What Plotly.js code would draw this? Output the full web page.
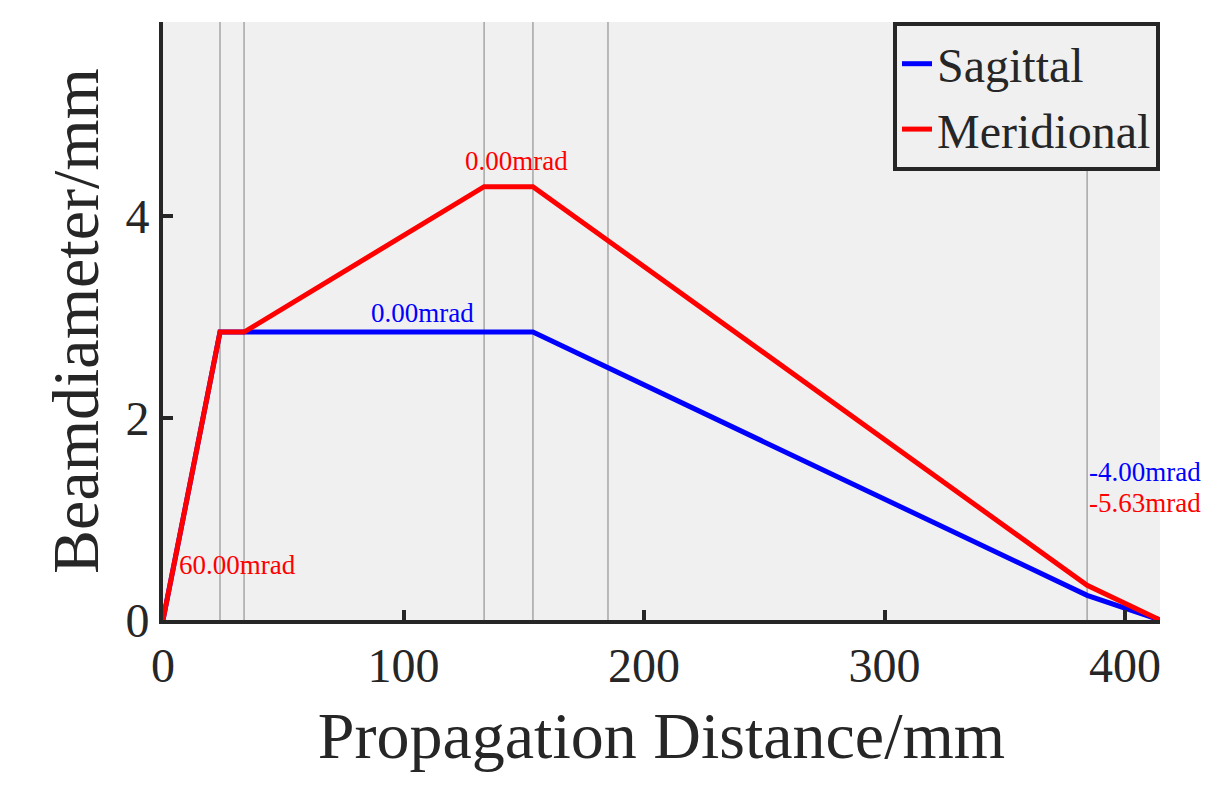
<!DOCTYPE html>
<html>
<head>
<meta charset="utf-8">
<script src="https://cdn.plot.ly/plotly-3.0.1.min.js"></script>
<style>html,body{margin:0;padding:0;background:#fff;}#chart{width:1227px;height:785px;}</style>
</head>
<body>
<div id="chart"></div>
<script>
// Data
var sagX = [0, 23.7, 33.7, 153.8, 384.2, 414.5];
var sagY = [0, 2.85, 2.85, 2.85, 0.244, 0];
var merX = [0, 23.7, 33.7, 133.5, 153.8, 384.2, 414.5];
var merY = [0, 2.85, 2.85, 4.29, 4.29, 0.343, 0];
var elementPositions = [23.7, 33.7, 133.5, 153.8, 185.0, 384.2];
var xTicks = [0, 100, 200, 300, 400];
var yTicks = [0, 2, 4];
var labelTexts = ["60.00mrad", "0.00mrad", "0.00mrad", "-4.00mrad", "-5.63mrad"];
var labelX = [6, 108, 146.8, 384.2, 384.2];
var labelY = [0.545, 3.04, 4.54, 1.47, 1.16];
var labelColors = ["red", "blue", "red", "blue", "red"];
var labelAnchors = ["left", "center", "center", "left", "left"];

var FONT = "Liberation Serif, Times New Roman, serif";
var ink = "#262626";

var traces = [
  {x: sagX, y: sagY, mode: "lines", name: "Sagittal", line: {color: "#0000ff", width: 5}},
  {x: merX, y: merY, mode: "lines", name: "Meridional", line: {color: "#ff0000", width: 5}}
];

var shapes = elementPositions.map(function (p) {
  return {type: "line", xref: "x", yref: "paper", x0: p, x1: p, y0: 0, y1: 1,
          line: {color: "#a6a6a6", width: 1.5}, layer: "below"};
});

var annotations = labelTexts.map(function (t, i) {
  return {x: labelX[i], y: labelY[i], xref: "x", yref: "y", text: t, showarrow: false,
          xanchor: labelAnchors[i], yanchor: "middle",
          font: {family: FONT, size: 27, color: labelColors[i]}};
});

var layout = {
  width: 1227, height: 785,
  margin: {l: 163, r: 67, t: 22, b: 165},
  paper_bgcolor: "#ffffff",
  plot_bgcolor: "#f0f0f0",
  showlegend: true,
  legend: {x: 1, xanchor: "right", y: 1, yanchor: "top",
           bgcolor: "#f0f0f0", bordercolor: ink, borderwidth: 4,
           font: {family: FONT, size: 48, color: ink}, tracegroupgap: 0},
  xaxis: {range: [0, 414.5], tickvals: xTicks, ticktext: xTicks.map(String),
          showgrid: false, zeroline: false, showline: true, linecolor: ink, linewidth: 4,
          ticks: "inside", ticklen: 10, tickwidth: 4, tickcolor: ink,
          tickfont: {family: FONT, size: 48, color: ink},
          title: {text: "Propagation Distance/mm", font: {family: FONT, size: 66, color: ink}, standoff: 22}},
  yaxis: {range: [0, 5.92], tickvals: yTicks, ticktext: yTicks.map(String),
          showgrid: false, zeroline: false, showline: true, linecolor: ink, linewidth: 4,
          ticks: "inside", ticklen: 10, tickwidth: 4, tickcolor: ink,
          tickfont: {family: FONT, size: 48, color: ink},
          title: {text: "Beamdiameter/mm", font: {family: FONT, size: 66, color: ink}, standoff: 6}},
  shapes: shapes,
  annotations: annotations
};

Plotly.newPlot("chart", traces, layout, {displayModeBar: false, staticPlot: true});
</script>
</body>
</html>
